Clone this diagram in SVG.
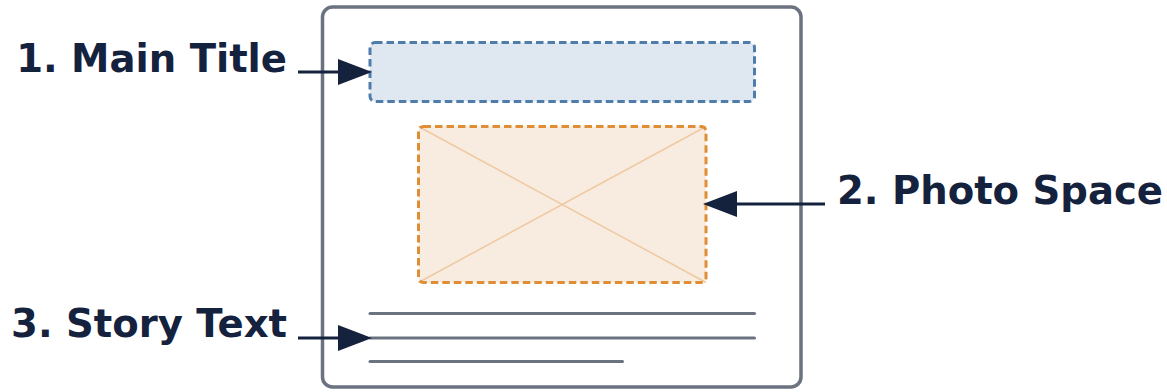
<svg xmlns="http://www.w3.org/2000/svg" width="1167" height="392" viewBox="0 0 1167 392">
  <style>
    .label { font-family: "DejaVu Sans", "Liberation Sans", sans-serif; font-weight: bold; font-size: 38.6px; fill: #15223e; }
    .conn { stroke: #15223e; stroke-width: 3; fill: none; }
    .textline { stroke: #6b7280; stroke-width: 3; stroke-linecap: round; }
  </style>
  <defs>
    <marker id="arrow" markerUnits="userSpaceOnUse" markerWidth="35" markerHeight="26" refX="0" refY="13" orient="auto">
      <path d="M0,0 L34,13 L0,26 Z" fill="#15223e"/>
    </marker>
  </defs>
  <rect width="1167" height="392" fill="#ffffff"/>

  <g id="frame">
    <rect x="322.5" y="7" width="478.5" height="380" rx="10" fill="#ffffff" stroke="#6b7280" stroke-width="3.5"/>
  </g>

  <g id="main-title-box">
    <rect x="370" y="42.5" width="384.5" height="59" rx="5" fill="#dfe8f1" stroke="#4f7dab" stroke-width="3" stroke-dasharray="7.5 4"/>
  </g>

  <g id="photo-space-box">
    <rect x="418.5" y="126.5" width="287.5" height="156" rx="5" fill="#f8ebdf"/>
    <line x1="418.5" y1="126.5" x2="706" y2="282.5" stroke="#efc9a2" stroke-width="1.5"/>
    <line x1="706" y1="126.5" x2="418.5" y2="282.5" stroke="#efc9a2" stroke-width="1.5"/>
    <rect x="418.5" y="126.5" width="287.5" height="156" rx="5" fill="none" stroke="#e08e36" stroke-width="3" stroke-dasharray="7.5 4"/>
  </g>

  <g id="story-text-lines">
    <line class="textline" x1="370" y1="313.5" x2="754.5" y2="313.5"/>
    <line class="textline" x1="370" y1="338" x2="754.5" y2="338"/>
    <line class="textline" x1="370" y1="361.5" x2="622.5" y2="361.5"/>
  </g>

  <g id="label-main-title">
    <text class="label" x="287" y="72" text-anchor="end">1. Main Title</text>
  </g>
  <g id="label-photo-space">
    <text class="label" x="837" y="204">2. Photo Space</text>
  </g>
  <g id="label-story-text">
    <text class="label" x="287" y="337" text-anchor="end">3. Story Text</text>
  </g>

  <g id="connectors">
    <line class="conn" x1="298" y1="72" x2="338" y2="72" marker-end="url(#arrow)"/>
    <line class="conn" x1="825" y1="204" x2="737" y2="204" marker-end="url(#arrow)"/>
    <line class="conn" x1="298" y1="338" x2="338" y2="338" marker-end="url(#arrow)"/>
  </g>
</svg>
